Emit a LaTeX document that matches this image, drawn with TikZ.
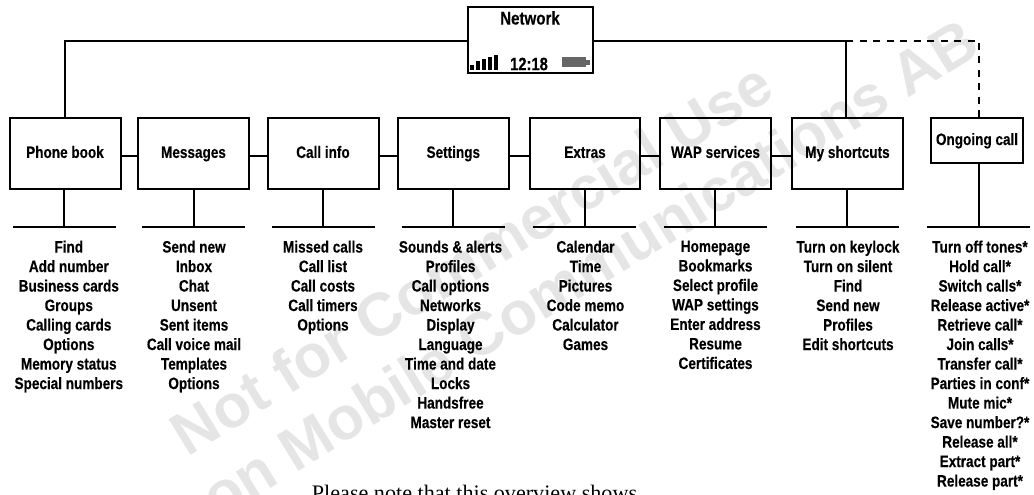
\documentclass[tikz,border=0pt]{standalone}
\usepackage{fontspec}
\setmainfont{Liberation Sans}
\newfontfamily\narrowbold[FakeStretch=0.82,FakeBold=0.25]{Liberation Sans Bold}
\newfontfamily\notefont{Liberation Serif}
\newfontfamily\wmfont{Liberation Sans Bold}
\newlength{\px}\setlength{\px}{0.75pt}
\tikzset{
  menubox/.style={draw=black,line width=1.5pt,fill=none,inner sep=0pt,minimum width=111\px,minimum height=71\px,text height=9.3pt,text depth=2.7pt,font=\narrowbold\fontsize{12.4}{14.6}\selectfont,align=center},
  itemlist/.style={inner sep=0pt,anchor=north,align=center,font=\narrowbold\fontsize{12.4}{14.625}\selectfont,execute at begin node={\rule{0pt}{9.5pt}}},
  conn/.style={line width=1.5pt,line cap=butt},
  watermark/.style={text=black!10,font=\wmfont\fontsize{45.5}{50}\selectfont,rotate=31.5,inner sep=0pt}
}
\begin{document}
\begin{tikzpicture}[x=0.75pt,y=-0.75pt]
\useasboundingbox (0,0) rectangle (1034,495);
\clip (0,0) rectangle (1034,495);
% watermark
\node[watermark] (wma) at (471,258) {Not for Commercial Use};
\node[watermark] (wmb) at (589,268) {on Mobile Communications AB};
% network box
\node[menubox,minimum width=125\px,minimum height=66\px,text height=0pt,text depth=0pt] (net) at (530.5,40) {};
\node[inner sep=0pt,font=\narrowbold\fontsize{13.8}{14}\selectfont] (nettitle) at (530,18) {Network};
\node[inner sep=0pt,font=\narrowbold\fontsize{13.5}{14}\selectfont] (clock) at (529,64) {12:18};
\foreach \i/\h in {0/5.5,1/9,2/11,3/13,4/15}{
  \fill[black] (470+\i*6,70.5) rectangle ++(4,-\h);
}
\fill[black!60] (562,57) rectangle (586,67);
\fill[black!60] (586,60) rectangle (590,65);
% boxes
\node[menubox] (pb) at (65,153.5) {Phone book};
\node[menubox] (ms) at (193.5,153.5) {Messages};
\node[menubox] (ci) at (323,153.5) {Call info};
\node[menubox] (st) at (453.3,153.5) {Settings};
\node[menubox,minimum width=110\px] (ex) at (585,153.5) {Extras};
\node[menubox,minimum width=111.6\px] (wp) at (715.5,153.5) {WAP services};
\node[menubox] (sc) at (847.5,153.5) {My shortcuts};
\node[menubox,minimum width=92.6\px,minimum height=45\px,text height=9.6pt,text depth=2.4pt] (og) at (977,140.2) {Ongoing call};
% lists
\node[itemlist] (lpb) at (68.8,240.3) {Find\\Add number\\Business cards\\Groups\\Calling cards\\Options\\Memory status\\Special numbers};
\node[itemlist] (lms) at (194,240.3) {Send new\\Inbox\\Chat\\Unsent\\Sent items\\Call voice mail\\Templates\\Options};
\node[itemlist] (lci) at (323,240.3) {Missed calls\\Call list\\Call costs\\Call timers\\Options};
\node[itemlist] (lst) at (450.5,240.3) {Sounds \& alerts\\Profiles\\Call options\\Networks\\Display\\Language\\Time and date\\Locks\\Handsfree\\Master reset};
\node[itemlist] (lex) at (585.5,240.3) {Calendar\\Time\\Pictures\\Code memo\\Calculator\\Games};
\node[itemlist] (lwp) at (715.5,240.3) {Homepage\\Bookmarks\\Select profile\\WAP settings\\Enter address\\Resume\\Certificates};
\node[itemlist] (lsc) at (848,240.3) {Turn on keylock\\Turn on silent\\Find\\Send new\\Profiles\\Edit shortcuts};
\node[itemlist] (log) at (980,240.3) {Turn off tones*\\Hold call*\\Switch calls*\\Release active*\\Retrieve call*\\Join calls*\\Transfer call*\\Parties in conf*\\Mute mic*\\Save number?*\\Release all*\\Extract part*\\Release part*};
% top connectors
\coordinate (tl) at (64.5,41);
\coordinate (tr) at (979,41);
\coordinate (tj) at (846,41);
\draw[conn] (net.west |- tl) -- (tl) -- (tl |- pb.north);
\draw[conn] (net.east |- tr) -- (tj) -- (tj |- sc.north);
\draw[conn,dash pattern=on 7\px off 6.5\px] (tj) -- (tr) -- (tr |- og.north);
% horizontal between boxes
\foreach \a/\b in {pb/ms,ms/ci,ci/st,st/ex,ex/wp,wp/sc}{
  \draw[conn] ([yshift=-2.5\px]\a.east) -- ([yshift=-2.5\px]\b.west);
}
% stems and bars
\foreach \n/\x/\l/\r in {pb/64/13/116,ms/194/142/245,ci/323/272/375,st/452.7/402/505,ex/585/533/636,wp/714.7/664/767,sc/847/796/899,og/979/927/1030}{
  \coordinate (bl\n) at (\l,227);
  \coordinate (br\n) at (\r,227);
  \draw[conn] (bl\n) -- (br\n);
  \draw[conn] (\n.south -| \x,0) -- (\x,227);
}
% note
\node[inner sep=0pt,anchor=base,font=\notefont\fontsize{16.6}{18}\selectfont] (note) at (474.5,500) {Please note that this overview shows};
\end{tikzpicture}
\end{document}
